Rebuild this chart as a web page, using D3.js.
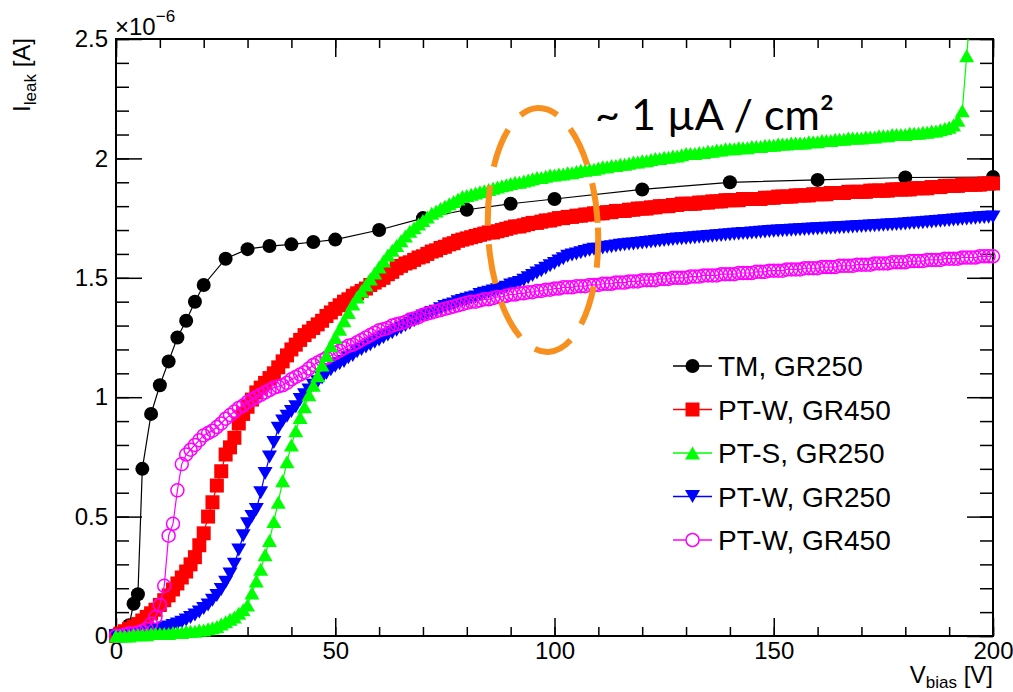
<!DOCTYPE html>
<html>
<head>
<meta charset="utf-8">
<script src="https://cdn.jsdelivr.net/npm/d3@7"></script>
<style>
  body { margin: 0; background: #fff; }
  svg { display: block; font-family: "Liberation Sans", Arial, Helvetica, sans-serif; }
</style>
</head>
<body>
<div id="chart"></div>
<script>
// ---- data (currents in units of 1e-6 A) ----
const seriesNames = ["TM, GR250", "PT-W, GR450", "PT-S, GR250", "PT-W, GR250", "PT-W, GR450"];
const xTickLabels = ["0", "50", "100", "150", "200"];
const yTickLabels = ["0", "0.5", "1", "1.5", "2", "2.5"];

// TM, GR250 (sparse scan)
const voltsTM = [0, 1, 2, 3, 4, 5, 6, 8, 10, 12, 14, 16, 18, 20, 25, 30, 35, 40, 45, 50,
  60, 70, 80, 90, 100, 120, 140, 160, 180, 200];
const leakTM = [0.005, 0.01, 0.02, 0.045, 0.135, 0.175, 0.70, 0.93, 1.05, 1.15, 1.25, 1.32, 1.40, 1.47, 1.58, 1.62, 1.633, 1.64, 1.65, 1.66,
  1.70, 1.75, 1.785, 1.81, 1.83, 1.87, 1.90, 1.91, 1.92, 1.922];

// 1 V step scans
const voltsScan = [0, 1, 2, 3, 4, 5, 6, 7, 8, 9, 10, 11, 12, 13, 14, 15, 16, 17, 18, 19,
  20, 21, 22, 23, 24, 25, 26, 27, 28, 29, 30, 31, 32, 33, 34, 35, 36, 37, 38, 39,
  40, 41, 42, 43, 44, 45, 46, 47, 48, 49, 50, 51, 52, 53, 54, 55, 56, 57, 58, 59,
  60, 61, 62, 63, 64, 65, 66, 67, 68, 69, 70, 71, 72, 73, 74, 75, 76, 77, 78, 79,
  80, 81, 82, 83, 84, 85, 86, 87, 88, 89, 90, 91, 92, 93, 94, 95, 96, 97, 98, 99,
  100, 101, 102, 103, 104, 105, 106, 107, 108, 109, 110, 111, 112, 113, 114, 115, 116, 117, 118, 119,
  120, 121, 122, 123, 124, 125, 126, 127, 128, 129, 130, 131, 132, 133, 134, 135, 136, 137, 138, 139,
  140, 141, 142, 143, 144, 145, 146, 147, 148, 149, 150, 151, 152, 153, 154, 155, 156, 157, 158, 159,
  160, 161, 162, 163, 164, 165, 166, 167, 168, 169, 170, 171, 172, 173, 174, 175, 176, 177, 178, 179,
  180, 181, 182, 183, 184, 185, 186, 187, 188, 189, 190, 191, 192, 193, 194, 195, 196, 197, 198, 199, 200];

// PT-W, GR450 (red squares)
const leakPTW450 = [
  0.00, 0.01, 0.02, 0.03, 0.04, 0.05, 0.065, 0.08, 0.095, 0.11,
  0.13, 0.15, 0.17, 0.195, 0.22, 0.245, 0.27, 0.30, 0.33, 0.38,
  0.43, 0.50, 0.56, 0.63, 0.69, 0.76, 0.79, 0.83, 0.89, 0.93,
  0.96, 0.99, 1.02, 1.04, 1.06, 1.08, 1.10, 1.125, 1.15, 1.175,
  1.20, 1.22, 1.24, 1.26, 1.275, 1.29, 1.305, 1.32, 1.34, 1.355,
  1.37, 1.385, 1.40, 1.41, 1.425, 1.435, 1.445, 1.455, 1.47, 1.48,
  1.49, 1.50, 1.515, 1.525, 1.54, 1.55, 1.56, 1.565, 1.575, 1.585,
  1.59, 1.60, 1.61, 1.615, 1.625, 1.63, 1.64, 1.645, 1.655, 1.66,
  1.665, 1.67, 1.675, 1.68, 1.685, 1.69, 1.69, 1.695, 1.70, 1.705,
  1.71, 1.715, 1.715, 1.72, 1.725, 1.73, 1.73, 1.735, 1.74, 1.74,
  1.745, 1.75, 1.75, 1.755, 1.755, 1.76, 1.76, 1.765, 1.765, 1.77,
  1.77, 1.77, 1.775, 1.775, 1.78, 1.78, 1.78, 1.785, 1.785, 1.79,
  1.79, 1.79, 1.795, 1.795, 1.80, 1.80, 1.80, 1.805, 1.805, 1.81,
  1.81, 1.81, 1.81, 1.815, 1.815, 1.815, 1.82, 1.82, 1.82, 1.825,
  1.825, 1.825, 1.825, 1.83, 1.83, 1.83, 1.83, 1.83, 1.835, 1.835,
  1.835, 1.84, 1.84, 1.84, 1.84, 1.845, 1.845, 1.845, 1.845, 1.85,
  1.85, 1.85, 1.85, 1.855, 1.855, 1.855, 1.855, 1.86, 1.86, 1.86,
  1.86, 1.86, 1.865, 1.865, 1.865, 1.865, 1.865, 1.87, 1.87, 1.87,
  1.87, 1.87, 1.875, 1.875, 1.875, 1.875, 1.88, 1.88, 1.88, 1.885,
  1.885, 1.885, 1.885, 1.89, 1.89, 1.89, 1.89, 1.89, 1.895, 1.895,
  1.895];

// PT-S, GR250 (green triangles), scan stops at 195 V
const leakPTS250 = [
  0.00, 0.00, 0.00, 0.00, 0.005, 0.005, 0.005, 0.005, 0.01, 0.01,
  0.01, 0.01, 0.01, 0.015, 0.015, 0.015, 0.02, 0.02, 0.02, 0.025,
  0.025, 0.03, 0.035, 0.04, 0.05, 0.06, 0.07, 0.08, 0.095, 0.11,
  0.13, 0.18, 0.23, 0.28, 0.34, 0.40, 0.48, 0.56, 0.65, 0.73,
  0.80, 0.86, 0.915, 0.96, 1.01, 1.05, 1.09, 1.135, 1.175, 1.215,
  1.25, 1.285, 1.32, 1.355, 1.39, 1.42, 1.445, 1.47, 1.495, 1.52,
  1.545, 1.57, 1.595, 1.615, 1.635, 1.655, 1.675, 1.695, 1.71, 1.725,
  1.74, 1.755, 1.77, 1.78, 1.79, 1.80, 1.81, 1.82, 1.83, 1.84,
  1.845, 1.85, 1.855, 1.86, 1.865, 1.87, 1.875, 1.88, 1.885, 1.89,
  1.895, 1.90, 1.90, 1.905, 1.91, 1.915, 1.92, 1.92, 1.925, 1.93,
  1.93, 1.935, 1.935, 1.94, 1.94, 1.945, 1.95, 1.95, 1.955, 1.955,
  1.96, 1.965, 1.965, 1.97, 1.97, 1.975, 1.975, 1.98, 1.985, 1.985,
  1.99, 1.99, 1.995, 2.00, 2.00, 2.005, 2.005, 2.01, 2.01, 2.015,
  2.02, 2.02, 2.02, 2.025, 2.025, 2.03, 2.03, 2.035, 2.035, 2.04,
  2.04, 2.04, 2.045, 2.045, 2.045, 2.05, 2.05, 2.05, 2.055, 2.055,
  2.055, 2.06, 2.06, 2.06, 2.065, 2.065, 2.065, 2.065, 2.07, 2.07,
  2.07, 2.075, 2.075, 2.075, 2.08, 2.08, 2.08, 2.085, 2.085, 2.085,
  2.085, 2.09, 2.09, 2.09, 2.095, 2.095, 2.095, 2.10, 2.10, 2.10,
  2.10, 2.105, 2.105, 2.105, 2.11, 2.11, 2.115, 2.115, 2.12, 2.125,
  2.13, 2.14, 2.16, 2.20, 2.43, 2.65];

// PT-W, GR250 (blue inverted triangles)
const leakPTW250 = [
  0.00, 0.002, 0.004, 0.006, 0.008, 0.01, 0.013, 0.016, 0.02, 0.024,
  0.028, 0.033, 0.038, 0.044, 0.05, 0.058, 0.067, 0.077, 0.088, 0.10,
  0.115, 0.13, 0.15, 0.17, 0.195, 0.225, 0.26, 0.30, 0.36, 0.42,
  0.47, 0.50, 0.53, 0.60, 0.68, 0.75, 0.81, 0.87, 0.90, 0.92,
  0.94, 0.96, 0.99, 1.01, 1.03, 1.05, 1.065, 1.08, 1.10, 1.115,
  1.13, 1.14, 1.15, 1.165, 1.175, 1.19, 1.20, 1.21, 1.22, 1.23,
  1.24, 1.25, 1.26, 1.27, 1.28, 1.29, 1.30, 1.31, 1.32, 1.33,
  1.34, 1.345, 1.355, 1.36, 1.37, 1.38, 1.385, 1.39, 1.40, 1.405,
  1.41, 1.415, 1.42, 1.43, 1.435, 1.44, 1.445, 1.45, 1.455, 1.46,
  1.47, 1.475, 1.48, 1.49, 1.50, 1.51, 1.52, 1.53, 1.54, 1.55,
  1.56, 1.57, 1.58, 1.59, 1.595, 1.60, 1.605, 1.61, 1.615, 1.62,
  1.62, 1.625, 1.628, 1.63, 1.633, 1.636, 1.638, 1.64, 1.642, 1.644,
  1.646, 1.648, 1.65, 1.652, 1.654, 1.656, 1.658, 1.66, 1.662, 1.664,
  1.665, 1.667, 1.668, 1.67, 1.671, 1.673, 1.674, 1.676, 1.677, 1.679,
  1.68, 1.682, 1.683, 1.685, 1.686, 1.688, 1.689, 1.691, 1.692, 1.694,
  1.695, 1.696, 1.697, 1.698, 1.699, 1.70, 1.701, 1.702, 1.703, 1.704,
  1.705, 1.706, 1.707, 1.708, 1.709, 1.71, 1.711, 1.712, 1.713, 1.714,
  1.715, 1.716, 1.717, 1.718, 1.719, 1.72, 1.721, 1.722, 1.723, 1.724,
  1.725, 1.727, 1.728, 1.73, 1.731, 1.733, 1.734, 1.736, 1.737, 1.739,
  1.74, 1.742, 1.743, 1.745, 1.746, 1.748, 1.749, 1.751, 1.752, 1.754,
  1.755];

// PT-W, GR450 (magenta open circles)
const leakPTW450b = [
  0.00, 0.00, 0.005, 0.01, 0.01, 0.015, 0.02, 0.03, 0.05, 0.08,
  0.13, 0.21, 0.42, 0.47, 0.61, 0.72, 0.76, 0.78, 0.80, 0.82,
  0.84, 0.85, 0.86, 0.875, 0.89, 0.91, 0.925, 0.94, 0.955, 0.965,
  0.98, 0.99, 1.00, 1.01, 1.02, 1.03, 1.04, 1.045, 1.05, 1.06,
  1.075, 1.085, 1.095, 1.105, 1.12, 1.135, 1.145, 1.155, 1.165, 1.175,
  1.185, 1.195, 1.205, 1.215, 1.22, 1.23, 1.24, 1.25, 1.26, 1.27,
  1.28, 1.285, 1.29, 1.30, 1.305, 1.31, 1.315, 1.325, 1.33, 1.335,
  1.345, 1.35, 1.355, 1.36, 1.365, 1.37, 1.375, 1.38, 1.385, 1.39,
  1.395, 1.40, 1.40, 1.405, 1.41, 1.41, 1.415, 1.42, 1.42, 1.425,
  1.43, 1.43, 1.435, 1.435, 1.44, 1.44, 1.445, 1.445, 1.45, 1.45,
  1.455, 1.455, 1.46, 1.46, 1.46, 1.465, 1.465, 1.465, 1.47, 1.47,
  1.47, 1.475, 1.475, 1.475, 1.48, 1.48, 1.48, 1.485, 1.485, 1.485,
  1.49, 1.49, 1.49, 1.49, 1.495, 1.495, 1.495, 1.50, 1.50, 1.50,
  1.50, 1.505, 1.505, 1.505, 1.51, 1.51, 1.51, 1.51, 1.515, 1.515,
  1.515, 1.515, 1.52, 1.52, 1.52, 1.52, 1.525, 1.525, 1.525, 1.53,
  1.53, 1.53, 1.53, 1.535, 1.535, 1.535, 1.535, 1.54, 1.54, 1.54,
  1.54, 1.545, 1.545, 1.545, 1.545, 1.55, 1.55, 1.55, 1.55, 1.555,
  1.555, 1.555, 1.555, 1.56, 1.56, 1.56, 1.56, 1.565, 1.565, 1.565,
  1.565, 1.57, 1.57, 1.57, 1.57, 1.575, 1.575, 1.575, 1.575, 1.58,
  1.58, 1.58, 1.58, 1.585, 1.585, 1.585, 1.585, 1.59, 1.59, 1.59,
  1.59];

// ---- layout ----
const margin = {top: 39, right: 20, bottom: 56, left: 116};
const width = 877;
const height = 597;
const fontFamily = '"Liberation Sans", Arial, Helvetica, sans-serif';

const svg = d3.select("#chart")
  .append("svg")
  .attr("width", 1013)
  .attr("height", 692);

const g = svg.append("g")
  .attr("transform", `translate(${margin.left},${margin.top})`);

const x = d3.scaleLinear().domain([0, 200]).range([0, width]);
const y = d3.scaleLinear().domain([0, 2.5e-6]).range([height, 0]);

const xMajor = xTickLabels.map(Number);
const yMajor = yTickLabels.map(d => +d * 1e-6);
const xMinor = d3.range(0, 201, 10);
const yMinor = d3.range(0, 26).map(i => i * 1e-7);

function styleAxis(sel) {
  sel.select(".domain").remove();
  sel.selectAll("line").attr("stroke", "#000").attr("stroke-width", 1.5);
  sel.selectAll("text").attr("font-size", 24).attr("font-family", fontFamily).attr("fill", "#000");
}

// bottom axis
const axBottom = g.append("g").attr("transform", `translate(0,${height})`);
axBottom.append("g").call(d3.axisBottom(x).tickValues(xMinor).tickSize(-9).tickFormat("")).call(styleAxis);
axBottom.append("g").call(d3.axisBottom(x).tickValues(xMajor).tickSize(-18).tickPadding(6)
  .tickFormat((d, i) => xTickLabels[i])).call(styleAxis);

// top (mirror)
const axTop = g.append("g");
axTop.append("g").call(d3.axisTop(x).tickValues(xMinor).tickSize(-9).tickFormat("")).call(styleAxis);
axTop.append("g").call(d3.axisTop(x).tickValues(xMajor).tickSize(-18).tickFormat("")).call(styleAxis);

// left axis
const axLeft = g.append("g");
axLeft.append("g").call(d3.axisLeft(y).tickValues(yMinor).tickSize(-13).tickFormat("")).call(styleAxis);
axLeft.append("g").call(d3.axisLeft(y).tickValues(yMajor).tickSize(-26).tickPadding(8)
  .tickFormat((d, i) => yTickLabels[i])).call(styleAxis);

// right (mirror)
const axRight = g.append("g").attr("transform", `translate(${width},0)`);
axRight.append("g").call(d3.axisRight(y).tickValues(yMinor).tickSize(-13).tickFormat("")).call(styleAxis);
axRight.append("g").call(d3.axisRight(y).tickValues(yMajor).tickSize(-26).tickFormat("")).call(styleAxis);

// frame
g.append("rect")
  .attr("width", width)
  .attr("height", height)
  .attr("fill", "none")
  .attr("stroke", "#000")
  .attr("stroke-width", 2);

// exponent label
svg.append("text")
  .attr("x", 115)
  .attr("y", 35)
  .attr("font-family", fontFamily)
  .attr("font-size", 24)
  .text("\u00d710")
  .append("tspan")
  .attr("dy", -13)
  .attr("font-size", 17)
  .text("\u22126");

// axis titles
const yTitle = svg.append("text")
  .attr("transform", "translate(30,38) rotate(-90)")
  .attr("text-anchor", "end")
  .attr("font-family", fontFamily)
  .attr("font-size", 24);
yTitle.append("tspan").text("I");
yTitle.append("tspan").attr("dy", 6).attr("font-size", 17).text("leak");
yTitle.append("tspan").attr("dy", -6).text(" [A]");

const xTitle = svg.append("text")
  .attr("x", 993)
  .attr("y", 683)
  .attr("text-anchor", "end")
  .attr("font-family", fontFamily)
  .attr("font-size", 24);
xTitle.append("tspan").text("V");
xTitle.append("tspan").attr("dy", 5).attr("font-size", 17).text("bias");
xTitle.append("tspan").attr("dy", -5).text(" [V]");

// ---- series ----
const markerPaths = {
  circle: "M7,0A7,7 0 1,1 -7,0A7,7 0 1,1 7,0Z",
  square: "M-7,-7H7V7H-7Z",
  triUp: "M-7.5,6.5L7.5,6.5L0,-6.5Z",
  triDown: "M-7.5,-6.5L7.5,-6.5L0,6.5Z",
  openCircle: "M6.5,0A6.5,6.5 0 1,1 -6.5,0A6.5,6.5 0 1,1 6.5,0Z"
};

const series = [
  {name: seriesNames[0], volts: voltsTM, leak: leakTM, color: "#000000", marker: "circle", open: false},
  {name: seriesNames[1], volts: voltsScan, leak: leakPTW450, color: "#ff0000", marker: "square", open: false},
  {name: seriesNames[2], volts: voltsScan.slice(0, leakPTS250.length), leak: leakPTS250, color: "#00ff00", marker: "triUp", open: false},
  {name: seriesNames[3], volts: voltsScan, leak: leakPTW250, color: "#0000ff", marker: "triDown", open: false},
  {name: seriesNames[4], volts: voltsScan, leak: leakPTW450b, color: "#ff00ff", marker: "openCircle", open: true}
];

svg.append("defs").append("clipPath").attr("id", "frameClip")
  .append("rect").attr("width", width).attr("height", height);

const line = d3.line()
  .x(d => x(d.v))
  .y(d => y(d.i));

// draw order: black, red, blue, magenta, green
const drawOrder = [0, 1, 3, 4, 2];
drawOrder.forEach(k => {
  const s = series[k];
  const pts = s.volts.map((v, j) => ({v: v, i: s.leak[j] * 1e-6}));
  const sg = g.append("g");
  sg.append("path")
    .datum(pts)
    .attr("clip-path", "url(#frameClip)")
    .attr("fill", "none")
    .attr("stroke", s.color)
    .attr("stroke-width", 1.2)
    .attr("d", line);
  sg.selectAll("path.mk")
    .data(pts.filter(d => d.i <= 2.5e-6))
    .enter()
    .append("path")
    .attr("class", "mk")
    .attr("transform", d => `translate(${x(d.v)},${y(d.i)})`)
    .attr("d", markerPaths[s.marker])
    .attr("fill", s.open ? "none" : s.color)
    .attr("stroke", s.open ? s.color : "none")
    .attr("stroke-width", 1.5);
});

// ---- legend ----
const legend = svg.append("g").attr("transform", "translate(673,366)");
series.forEach((s, i) => {
  const row = legend.append("g").attr("transform", `translate(0,${i * 43.5})`);
  row.append("line").attr("x1", 0).attr("x2", 39).attr("stroke", s.color).attr("stroke-width", 1.5);
  row.append("path")
    .attr("transform", "translate(19.5,0)")
    .attr("d", markerPaths[s.marker])
    .attr("fill", s.open ? "#fff" : s.color)
    .attr("stroke", s.open ? s.color : "none")
    .attr("stroke-width", 1.5);
  row.append("text")
    .attr("x", 45)
    .attr("dy", "0.36em")
    .attr("font-family", fontFamily)
    .attr("font-size", 28)
    .text(s.name);
});

// ---- annotation ----
svg.append("ellipse")
  .attr("cx", 543)
  .attr("cy", 230)
  .attr("rx", 55)
  .attr("ry", 122)
  .attr("transform", "rotate(-2.5,543,230)")
  .attr("fill", "none")
  .attr("stroke", "#f7901e")
  .attr("stroke-width", 6)
  .attr("stroke-dasharray", "40,19");

svg.append("text")
  .attr("x", 595)
  .attr("y", 130)
  .attr("font-family", "Lato, 'Open Sans', sans-serif")
  .attr("font-size", 43)
  .text("~ 1 \u00b5A / cm\u00b2");
</script>
</body>
</html>
